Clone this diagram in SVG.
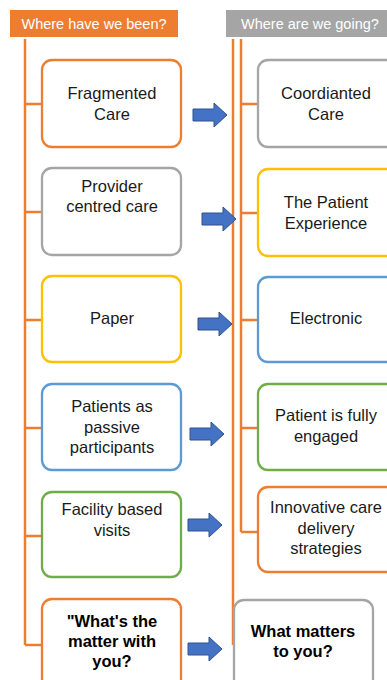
<svg xmlns="http://www.w3.org/2000/svg" width="387" height="680" viewBox="0 0 387 680">
  <style>
    .hdr { font-family: "Liberation Sans", Arial, sans-serif; font-size: 14.5px; fill: #ffffff; }
    .lbl { font-family: "Liberation Sans", Arial, sans-serif; font-size: 16.5px; fill: #1a1a1a; text-anchor: middle; }
    .bold { font-weight: bold; fill: #000000; }
    .box { fill: #ffffff; stroke-width: 2.3; }
    .orange { stroke: #ED7D31; }
    .gray { stroke: #A5A5A5; }
    .yellow { stroke: #FFC000; }
    .blue { stroke: #5B9BD5; }
    .green { stroke: #70AD47; }
    .wire { stroke: #ED7D31; stroke-width: 2.5; fill: none; }
    .arrow { fill: #4472C4; stroke: #2F528F; stroke-width: 1; }
  </style>
  <defs>
    <path id="blockArrow" d="M0,-6 H21 V-12 L34,0 L21,12 V6 H0 Z"/>
  </defs>

  <rect width="387" height="680" fill="#ffffff"/>

  <!-- column headers -->
  <g id="hdr-been">
    <rect x="10" y="10" width="168" height="27" fill="#ED7D31"/>
    <text class="hdr" x="94" y="28.5" text-anchor="middle">Where have we been?</text>
  </g>
  <g id="hdr-going">
    <rect x="226" y="10" width="170" height="27" fill="#A5A5A5"/>
    <text class="hdr" x="241" y="28.5">Where are we going?</text>
  </g>

  <!-- tree connectors -->
  <g id="connectors">
    <path class="wire" d="M25,39 V645 M25,104 H42 M25,212 H42 M25,320 H42 M25,428 H42 M25,536 H42 M25,645 H42"/>
    <path class="wire" d="M233,39 V645"/>
    <path class="wire" d="M241,39 V532 M241,104 H258 M241,213 H258 M241,320 H258 M241,428 H258 M241,532 H258"/>
    <path class="wire" d="M233,645 H250" opacity="0.25"/>
    <use href="#blockArrow" class="arrow" x="193" y="115"/>
    <use href="#blockArrow" class="arrow" x="202" y="219"/>
    <use href="#blockArrow" class="arrow" x="198" y="324"/>
    <use href="#blockArrow" class="arrow" x="190" y="434"/>
    <use href="#blockArrow" class="arrow" x="188" y="525"/>
    <use href="#blockArrow" class="arrow" x="188" y="649"/>
  </g>

  <!-- past column -->
  <g id="fragmented-care">
    <rect class="box orange" x="42" y="60" width="139" height="87" rx="10"/>
    <text class="lbl" x="112" y="99">Fragmented</text>
    <text class="lbl" x="112" y="119.5">Care</text>
  </g>
  <g id="provider-centred">
    <rect class="box gray" x="42" y="168" width="139" height="87" rx="10"/>
    <text class="lbl" x="112" y="191.5">Provider</text>
    <text class="lbl" x="112" y="212">centred care</text>
  </g>
  <g id="paper">
    <rect class="box yellow" x="42" y="276" width="139" height="86" rx="10"/>
    <text class="lbl" x="112" y="323.5">Paper</text>
  </g>
  <g id="passive-patients">
    <rect class="box blue" x="42" y="384" width="139" height="86" rx="10"/>
    <text class="lbl" x="112" y="412">Patients as</text>
    <text class="lbl" x="112" y="432.5">passive</text>
    <text class="lbl" x="112" y="453">participants</text>
  </g>
  <g id="facility-visits">
    <rect class="box green" x="42" y="492" width="139" height="85" rx="10"/>
    <text class="lbl" x="112" y="515">Facility based</text>
    <text class="lbl" x="112" y="535.5">visits</text>
  </g>
  <g id="whats-the-matter">
    <rect class="box orange" x="42" y="599" width="139" height="100" rx="10"/>
    <text class="lbl bold" x="112" y="627">"What's the</text>
    <text class="lbl bold" x="112" y="647">matter with</text>
    <text class="lbl bold" x="112" y="667">you?</text>
  </g>

  <!-- future column -->
  <g id="coordinated-care">
    <rect class="box gray" x="258" y="60" width="140" height="87" rx="10"/>
    <text class="lbl" x="326" y="99">Coordianted</text>
    <text class="lbl" x="326" y="119.5">Care</text>
  </g>
  <g id="patient-experience">
    <rect class="box yellow" x="258" y="169" width="140" height="87" rx="10"/>
    <text class="lbl" x="326" y="208">The Patient</text>
    <text class="lbl" x="326" y="228.5">Experience</text>
  </g>
  <g id="electronic">
    <rect class="box blue" x="258" y="277" width="140" height="85" rx="10"/>
    <text class="lbl" x="326" y="324">Electronic</text>
  </g>
  <g id="fully-engaged">
    <rect class="box green" x="258" y="384" width="140" height="86" rx="10"/>
    <text class="lbl" x="326" y="421">Patient is fully</text>
    <text class="lbl" x="326" y="441.5">engaged</text>
  </g>
  <g id="innovative-delivery">
    <rect class="box orange" x="258" y="487" width="140" height="85" rx="10"/>
    <text class="lbl" x="326" y="513">Innovative care</text>
    <text class="lbl" x="326" y="533.5">delivery</text>
    <text class="lbl" x="326" y="554">strategies</text>
  </g>
  <g id="what-matters">
    <rect class="box gray" x="234" y="600" width="139" height="100" rx="10"/>
    <text class="lbl bold" x="303" y="637">What matters</text>
    <text class="lbl bold" x="303" y="657">to you?</text>
  </g>
</svg>
